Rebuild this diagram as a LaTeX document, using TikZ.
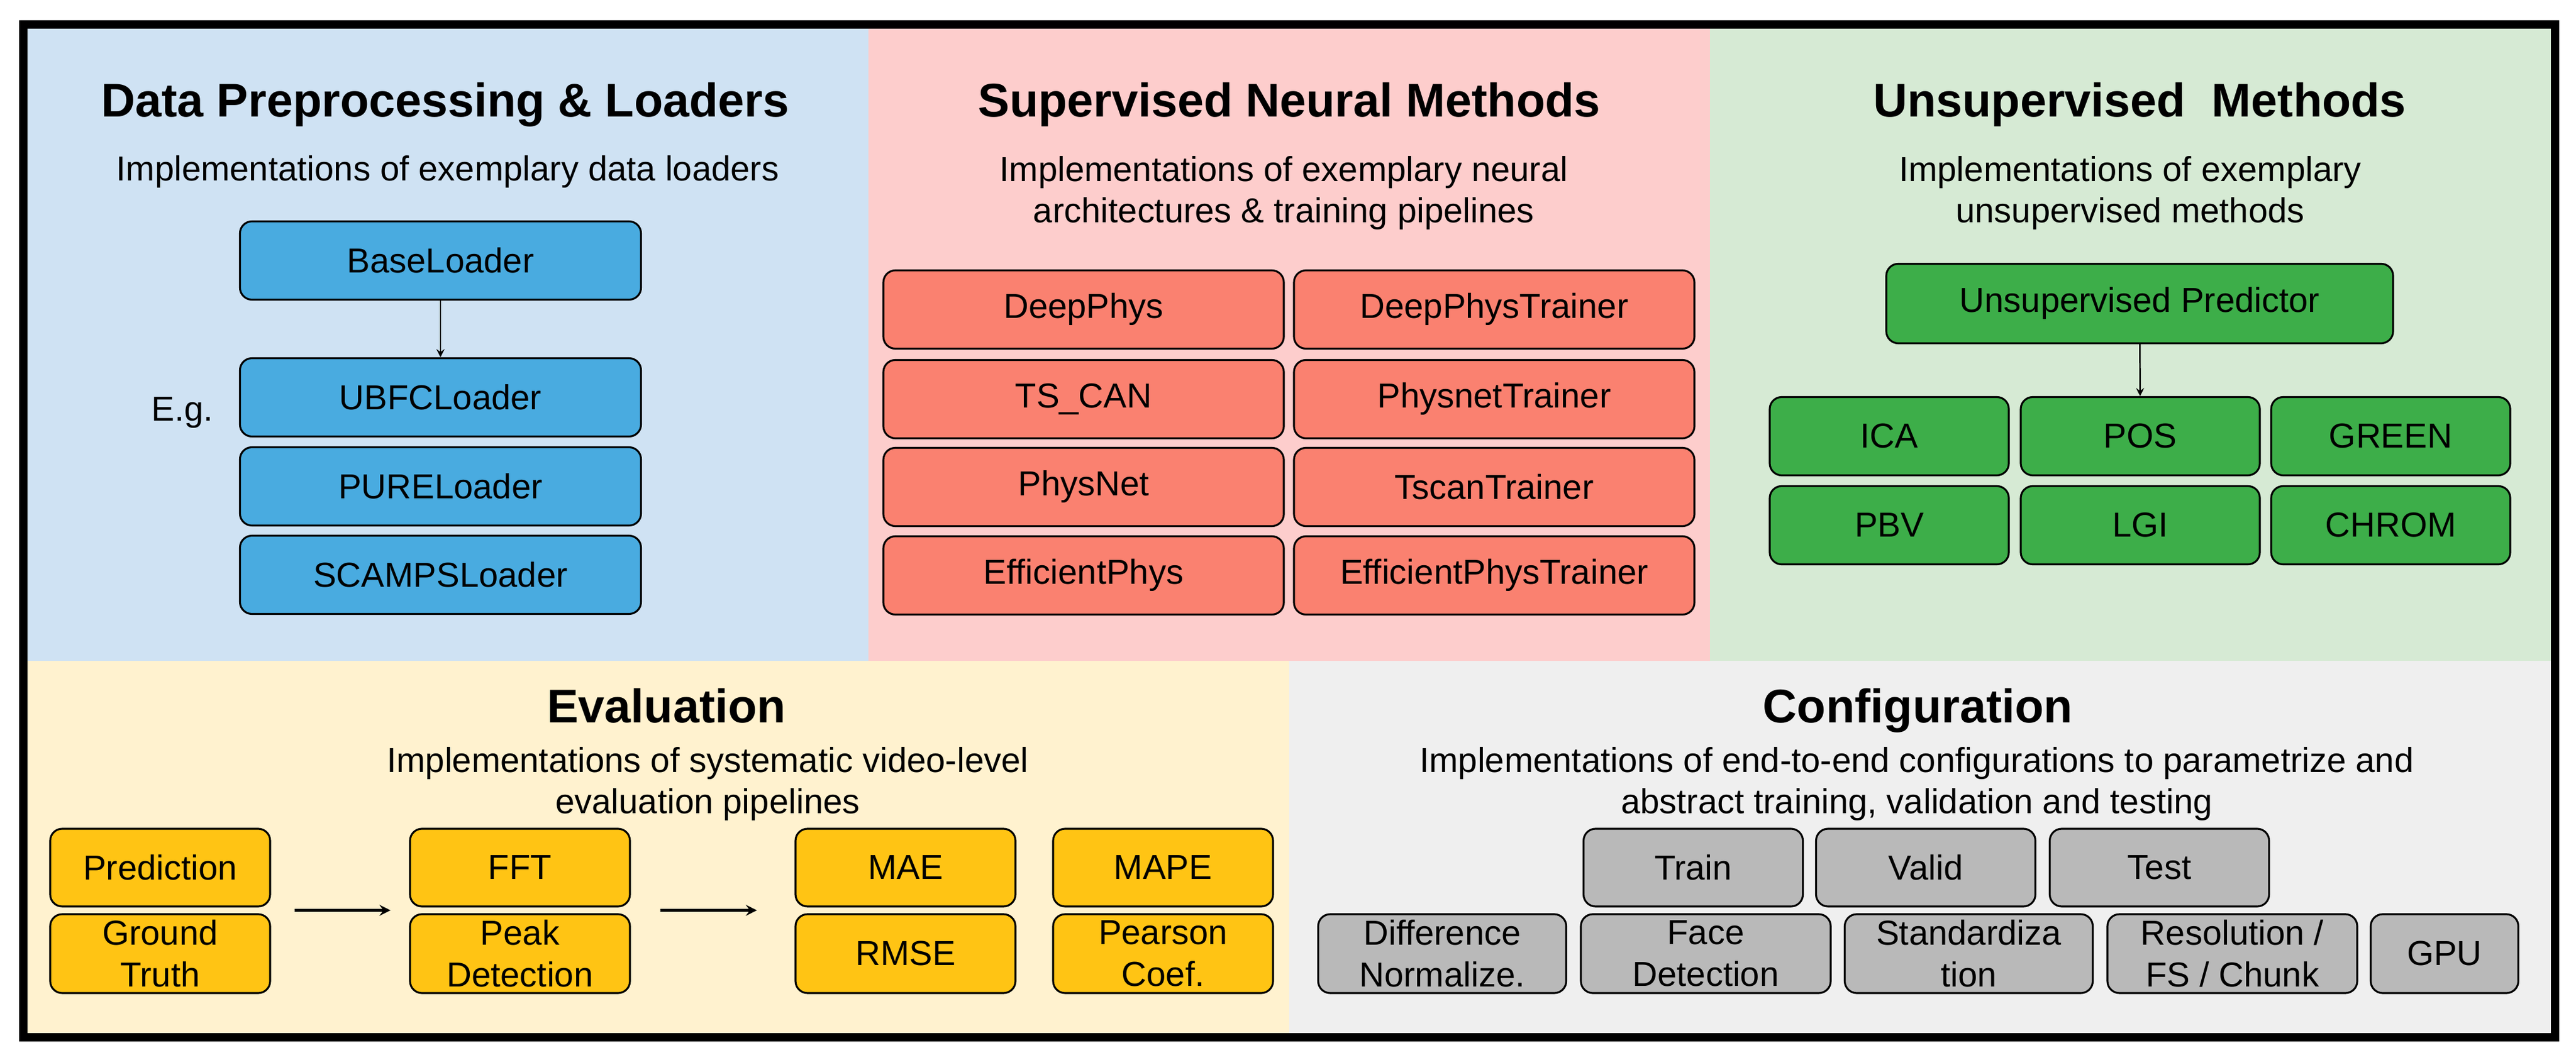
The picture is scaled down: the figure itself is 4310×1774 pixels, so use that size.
\documentclass[tikz,border=0pt]{standalone}
\usepackage{fontspec}
\setmainfont{Liberation Sans}
\usetikzlibrary{calc}

\definecolor{azulpanel}{HTML}{CFE2F3}
\definecolor{azulcaja}{HTML}{49ABE0}
\definecolor{rosapanel}{HTML}{FDCDCC}
\definecolor{rojocaja}{HTML}{FA8170}
\definecolor{verdepanel}{HTML}{D6EAD4}
\definecolor{verdecaja}{HTML}{3DAE49}
\definecolor{amarillopanel}{HTML}{FFF2CF}
\definecolor{amarillocaja}{HTML}{FFC414}
\definecolor{grispanel}{HTML}{EFEFEF}
\definecolor{griscaja}{HTML}{B9B9B9}

\begin{document}
\begin{tikzpicture}[x=0.1mm,y=-0.1mm,
  caja/.style={draw=black, line width=0.9pt, rounded corners=2mm, align=center,
    inner sep=0pt, minimum height=13.1mm, font=\fontsize{16.5}{19.9}\selectfont},
  cargador/.style={caja, fill=azulcaja, minimum width=67.1mm},
  neuronal/.style={caja, fill=rojocaja, minimum width=67mm},
  nosup/.style={caja, fill=verdecaja, minimum width=40mm},
  evalcaja/.style={caja, fill=amarillocaja, minimum width=36.8mm, minimum height=13mm},
  confcaja/.style={caja, fill=griscaja, minimum height=13mm},
  titulo/.style={anchor=base, font=\bfseries\fontsize{22.5}{27}\selectfont},
  subtitulo/.style={align=center, inner sep=0pt, font=\fontsize{16.5}{19.9}\selectfont},
  flecha/.style={-stealth, line width=0.7pt},
  flechagruesa/.style={-stealth, line width=1.3pt}
]
  \useasboundingbox (0,0) rectangle (4310,1774);
  \fill[white] (0,0) rectangle (4310,1774);

  % Paneles
  \fill[azulpanel] (39,41) rectangle (1453,1106);
  \fill[rosapanel] (1453,41) rectangle (2861,1106);
  \fill[verdepanel] (2861,41) rectangle (4275,1106);
  \fill[amarillopanel] (39,1106) rectangle (2157,1736);
  \fill[grispanel] (2157,1106) rectangle (4275,1736);
  \draw[line width=4pt] (39,41) rectangle (4275,1736);

  % Datos y cargadores
  \node[titulo] (tdatos) at (745,196) {Data Preprocessing \& Loaders};
  \node[subtitulo, anchor=base] (sdatos) at (749,303) {Implementations of exemplary data loaders};
  \node[cargador] (base) at (737,436) {BaseLoader};
  \node[cargador] (ubfc) at (737,665) {UBFCLoader};
  \node[cargador] (pure) at (737,814) {PURELoader};
  \node[cargador] (scamps) at (737,962) {SCAMPSLoader};
  \node[subtitulo, anchor=base] (eg) at (305,705) {E.g.};
  \draw[flecha] (base) -- (ubfc);

  % Metodos supervisados
  \node[titulo] (tsup) at (2157,196) {Supervised Neural Methods};
  \node[subtitulo] (ssup) at (2148,323) {Implementations of exemplary neural\\architectures \& training pipelines};
  \node[neuronal] (deepphys) at (1813,518) {DeepPhys};
  \node[neuronal] (tscan) at (1813,668) {TS\_CAN};
  \node[neuronal] (physnet) at (1813,815) {PhysNet};
  \node[neuronal] (effphys) at (1813,963) {EfficientPhys};
  \node[neuronal] (deeptr) at (2500,518) {DeepPhysTrainer};
  \node[neuronal] (physnettr) at (2500,668) {PhysnetTrainer};
  \node[neuronal] (tscantr) at (2500,815) {TscanTrainer};
  \node[neuronal] (efftr) at (2500,963) {EfficientPhysTrainer};

  % Metodos no supervisados
  \node[titulo] (tnosup) at (3580,196) {Unsupervised~ Methods};
  \node[subtitulo] (snosup) at (3564,323) {Implementations of exemplary\\unsupervised methods};
  \node[nosup, minimum width=84.8mm, minimum height=13.3mm] (predictor) at (3580,508) {Unsupervised Predictor};
  \node[nosup] (ica) at (3161,730) {ICA};
  \node[nosup] (pos) at (3581,730) {POS};
  \node[nosup] (green) at (4000,730) {GREEN};
  \node[nosup] (pbv) at (3161,879) {PBV};
  \node[nosup] (lgi) at (3581,879) {LGI};
  \node[nosup] (chrom) at (4000,879) {CHROM};
  \draw[flecha] (predictor) -- (pos);

  % Evaluacion
  \node[titulo] (teval) at (1115,1209) {Evaluation};
  \node[subtitulo] (seval) at (1184,1312) {Implementations of systematic video-level\\evaluation pipelines};
  \node[evalcaja] (prediccion) at (268,1452) {Prediction};
  \node[evalcaja, minimum height=13.2mm] (verdad) at (268,1596) {Ground\\Truth};
  \node[evalcaja] (fft) at (870,1452) {FFT};
  \node[evalcaja, minimum height=13.2mm] (picos) at (870,1596) {Peak\\Detection};
  \node[evalcaja] (mae) at (1515,1452) {MAE};
  \node[evalcaja, minimum height=13.2mm] (rmse) at (1515,1596) {RMSE};
  \node[evalcaja] (mape) at (1946,1452) {MAPE};
  \node[evalcaja, minimum height=13.2mm] (pearson) at (1946,1596) {Pearson\\Coef.};
  \draw[flechagruesa, shorten <=3.9mm, shorten >=3.1mm]
    ($(prediccion.south east)!.5!(verdad.north east)$) -- ($(fft.south west)!.5!(picos.north west)$);
  \draw[flechagruesa, shorten <=4.9mm, shorten >=6.3mm]
    ($(fft.south east)!.5!(picos.north east)$) -- ($(mae.south west)!.5!(rmse.north west)$);

  % Configuracion
  \node[titulo] (tconf) at (3209,1209) {Configuration};
  \node[subtitulo] (sconf) at (3207,1312) {Implementations of end-to-end configurations to parametrize and\\abstract training, validation and testing};
  \node[confcaja, minimum width=36.7mm] (train) at (2833,1452) {Train};
  \node[confcaja, minimum width=36.7mm] (valid) at (3222,1452) {Valid};
  \node[confcaja, minimum width=36.7mm] (test) at (3613,1452) {Test};
  \node[confcaja, minimum width=41.5mm, minimum height=13.2mm] (difnorm) at (2413,1596) {Difference\\Normalize.};
  \node[confcaja, minimum width=41.8mm, minimum height=13.2mm] (cara) at (2854,1596) {Face\\Detection};
  \node[confcaja, minimum width=41.5mm, minimum height=13.2mm] (estand) at (3294,1596) {Standardiza\\tion};
  \node[confcaja, minimum width=41.8mm, minimum height=13.2mm] (resol) at (3735,1596) {Resolution /\\FS / Chunk};
  \node[confcaja, minimum width=24.7mm, minimum height=13.2mm] (gpu) at (4090,1596) {GPU};

\end{tikzpicture}
\end{document}
